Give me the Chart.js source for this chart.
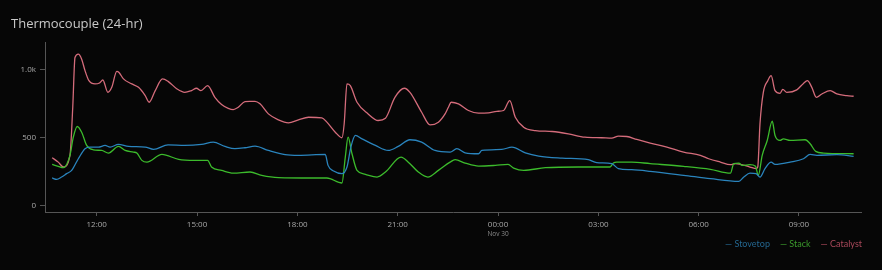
<!DOCTYPE html>
<html>
<head>
<meta charset="utf-8">
<script src="https://cdn.jsdelivr.net/npm/chart.js@4.4.1/dist/chart.umd.min.js"></script>
<style>
  html, body { margin: 0; padding: 0; background: #060606; }
  #wrap { width: 882px; height: 270px; position: relative; }
</style>
</head>
<body>
<div id="wrap"><canvas id="myChart"></canvas></div>
<script>
// readings, Nov 29 10:40 -> Nov 30 10:38
const catalystTimes = ['10:40','10:51','11:00','11:12','11:17','11:21','11:27','11:33','11:39','11:46','11:57','12:05','12:11','12:20','12:27','12:36','12:40','12:48','13:03','13:15','13:27','13:34','13:45','13:58','14:08','14:24','14:38','14:50','14:59','15:07','15:19','15:32','15:44','15:56','16:05','16:14','16:26','16:35','16:44','16:53','17:08','17:26','17:44','18:02','18:20','18:44','18:53','19:08','19:20','19:24','19:29','19:35','19:47','20:07','20:25','20:38','20:55','21:12','21:22','21:43','21:58','22:13','22:25','22:31','22:36','22:49','23:07','23:25','23:43','23:58','00:10','00:21','00:31','00:46','01:07','01:37','02:06','02:36','03:06','03:24','03:36','03:51','04:09','04:33','05:03','05:33','06:03','06:18','06:39','06:57','07:06','07:32','07:43','07:46','07:50','07:56','08:04','08:10','08:17','08:26','08:31','08:38','08:56','09:08','09:15','09:23','09:31','09:41','09:56','10:08','10:26','10:38'];
const catalystValues = [351,318,282,368,723,1090,1115,1078,993,919,895,902,924,833,870,988,980,932,895,870,809,760,846,932,914,858,833,846,863,846,882,796,743,715,706,723,765,767,767,748,674,630,608,630,649,645,613,539,498,601,895,882,760,674,625,642,796,863,833,686,593,613,674,723,760,748,699,679,682,693,699,772,649,576,551,544,527,502,498,495,510,507,485,458,429,392,368,343,318,299,307,282,270,282,601,833,919,956,846,826,855,833,851,899,919,870,796,821,846,821,809,804];

const stovetopTimes = ['10:40','10:48','10:57','11:06','11:15','11:27','11:39','11:48','12:03','12:15','12:24','12:39','12:57','13:27','13:42','14:08','14:38','15:08','15:29','15:50','16:08','16:26','16:44','17:08','17:38','18:02','18:50','18:55','19:05','19:20','19:29','19:36','19:44','19:56','20:20','20:43','21:01','21:22','21:43','22:07','22:34','22:46','23:01','23:25','23:31','00:07','00:25','00:49','01:13','01:55','02:42','02:57','03:24','03:36','04:00','04:33','05:33','06:21','07:12','07:21','07:32','07:43','07:50','07:59','08:10','08:17','08:44','09:08','09:20','09:32','10:08','10:38'];
const stovetopValues = [201,191,208,233,257,343,417,429,429,441,429,449,434,429,412,446,441,449,465,434,417,424,436,404,373,368,375,294,252,233,282,429,515,490,441,404,434,483,465,404,392,417,387,380,404,412,429,387,363,348,336,314,307,270,262,250,221,196,176,208,237,233,208,270,318,301,318,343,375,368,373,360];

const stackTimes = ['10:40','10:51','11:00','11:12','11:18','11:25','11:33','11:42','11:54','12:09','12:21','12:39','12:51','13:06','13:12','13:21','13:30','13:57','14:27','14:56','15:19','15:26','15:44','16:05','16:35','16:56','17:26','18:26','18:53','19:20','19:26','19:31','19:38','19:47','20:02','20:23','20:38','21:06','21:19','21:37','21:54','22:13','22:34','22:43','23:01','23:25','23:55','00:18','00:28','00:46','01:25','02:24','03:21','03:27','03:33','04:00','04:33','05:33','06:21','06:57','07:03','07:12','07:18','07:32','07:42','07:47','07:54','08:03','08:12','08:17','08:26','08:32','08:44','09:11','09:20','09:30','09:44','10:38'];
const stackValues = [301,287,277,368,502,581,539,441,409,404,385,434,404,392,385,331,318,375,338,331,331,282,257,237,245,221,204,201,201,164,355,502,380,257,228,208,245,355,318,245,208,257,318,336,311,289,294,301,274,257,277,282,282,311,318,318,307,287,265,237,307,311,294,299,287,221,368,478,620,515,478,490,478,483,454,397,385,380];

const seriesNames = ['Stovetop', 'Stack', 'Catalyst'];
const lineColors = ['#2a84bd', '#3cbb2c', '#d46c7b'];
const legendColors = ['#24668f', '#3b9a2c', '#a9485a'];
const xTickHours = [12, 15, 18, 21, 24, 27, 30, 33];
const yTickValues = [0, 500, 1000];

// hours since midnight Nov 29, rolling over past midnight
function toPoints(times, values) {
  let prev = 0, day = 0;
  return times.map((t, i) => {
    const parts = t.split(':');
    let h = Number(parts[0]) + Number(parts[1]) / 60;
    if (h + day < prev) day += 24;
    h += day;
    prev = h;
    return { x: h, y: values[i] };
  });
}

const data = {
  datasets: [
    { label: seriesNames[0], data: toPoints(stovetopTimes, stovetopValues) },
    { label: seriesNames[1], data: toPoints(stackTimes, stackValues) },
    { label: seriesNames[2], data: toPoints(catalystTimes, catalystValues) }
  ].map((d, i) => Object.assign(d, {
    borderColor: lineColors[i],
    backgroundColor: lineColors[i],
    borderWidth: 1.3,
    pointRadius: 0,
    cubicInterpolationMode: 'monotone',
    fill: false
  }))
};

const bgPlugin = {
  id: 'bg',
  beforeDraw(chart) {
    const ctx = chart.ctx;
    ctx.save();
    ctx.fillStyle = '#060606';
    ctx.fillRect(0, 0, chart.width, chart.height);
    ctx.restore();
  }
};

// small date under midnight tick + right aligned legend
const extras = {
  id: 'extras',
  afterDraw(chart) {
    const x = chart.scales.x;
    const ctx = chart.ctx;
    ctx.save();
    ctx.font = '6.5px "Open Sans"';
    ctx.fillStyle = '#8c8c8c';
    ctx.textAlign = 'center';
    ctx.textBaseline = 'middle';
    ctx.fillText('Nov 30', x.getPixelForValue(24), 234);

    ctx.font = '9px Lato';
    ctx.textAlign = 'right';
    let right = 862;
    for (let i = chart.data.datasets.length - 1; i >= 0; i--) {
      const txt = '— ' + chart.data.datasets[i].label;
      ctx.fillStyle = legendColors[i];
      ctx.fillText(txt, right, 244);
      right -= ctx.measureText(txt).width + 10;
    }
    ctx.restore();
  }
};

const config = {
  type: 'line',
  data,
  options: {
    responsive: true,
    maintainAspectRatio: false,
    animation: false,
    layout: { padding: { left: 11, right: 21, top: 0, bottom: 36 } },
    plugins: {
      title: {
        display: true,
        text: 'Thermocouple (24-hr)',
        align: 'start',
        color: '#c9c9c9',
        font: { family: 'Open Sans', size: 13, weight: 'normal' },
        padding: { top: 16, bottom: 11 }
      },
      legend: { display: false },
      tooltip: { enabled: false }
    },
    scales: {
      x: {
        type: 'linear',
        min: 10.4535,
        max: 34.854,
        afterBuildTicks(axis) {
          axis.ticks = xTickHours.map(v => ({ value: v }));
        },
        afterFit(axis) { axis.height = 22; },
        border: { display: true, color: '#555555', width: 1 },
        grid: { drawOnChartArea: false, drawTicks: true, tickLength: 4, color: '#555555' },
        ticks: {
          color: '#a8a8a8',
          font: { family: 'Open Sans', size: 8 },
          padding: 4,
          maxRotation: 0,
          autoSkip: false,
          callback: v => String(v % 24).padStart(2, '0') + ':00'
        }
      },
      y: {
        min: -50,
        max: 1200,
        afterBuildTicks(axis) {
          axis.ticks = yTickValues.map(v => ({ value: v }));
        },
        afterFit(axis) { axis.width = 34; },
        border: { display: true, color: '#555555', width: 1 },
        grid: { drawOnChartArea: false, drawTicks: true, tickLength: 5, color: '#555555' },
        ticks: {
          color: '#a8a8a8',
          font: { family: 'Open Sans', size: 8 },
          padding: 4,
          callback: v => v >= 1000 ? (v / 1000).toFixed(1) + 'k' : String(v)
        }
      }
    }
  },
  plugins: [bgPlugin, extras]
};

const myChart = new Chart(document.getElementById('myChart'), config);
</script>
</body>
</html>
